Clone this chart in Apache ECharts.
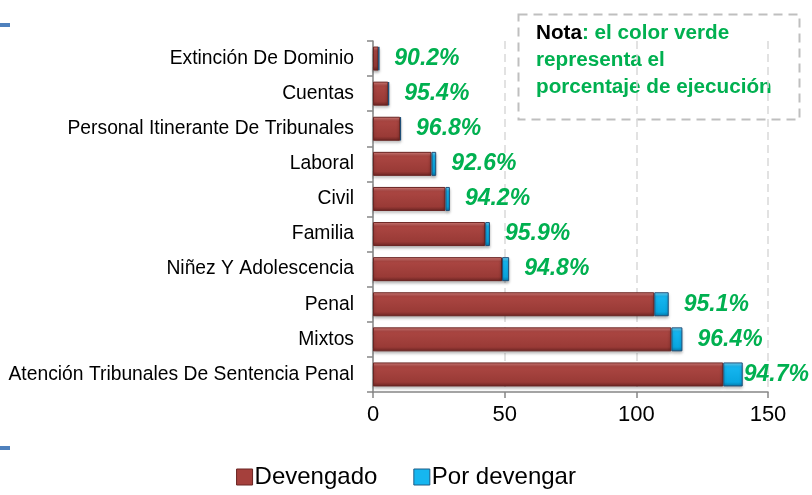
<!DOCTYPE html>
<html>
<head>
<meta charset="utf-8">
<script src="https://cdn.jsdelivr.net/npm/echarts@6/dist/echarts.min.js"></script>
<style>
  html, body { margin: 0; padding: 0; background: #fff; }
  #grafico { width: 812px; height: 495px; }
</style>
</head>
<body>
<div id="grafico"></div>
<script>
// datos (de arriba hacia abajo)
var categorias = ['Extinción De Dominio', 'Cuentas', 'Personal Itinerante De Tribunales', 'Laboral', 'Civil',
                  'Familia', 'Niñez Y Adolescencia', 'Penal', 'Mixtos', 'Atención Tribunales De Sentencia Penal'];
var devengado   = [2.1, 5.8, 10.3, 22.2, 27.5, 42.6, 49.0, 106.8, 113.3, 133.0];
var porDevengar = [0.23, 0.28, 0.34, 1.8, 1.7, 1.8, 2.7, 5.5, 4.2, 7.4];
var porcentajes = ['90.2%', '95.4%', '96.8%', '92.6%', '94.2%', '95.9%', '94.8%', '95.1%', '96.4%', '94.7%'];
var ticksX      = [0, 50, 100, 150];

var fuente = '"Liberation Sans", Arial, sans-serif';

// degradados para imitar el relieve de las barras
var rojo = new echarts.graphic.LinearGradient(0, 0, 0, 1, [
    { offset: 0, color: '#DC8581' },
    { offset: 0.18, color: '#AB4642' },
    { offset: 0.82, color: '#993A36' },
    { offset: 1, color: '#6A2422' }
]);
var azul = new echarts.graphic.LinearGradient(0, 0, 0, 1, [
    { offset: 0, color: '#7ADCFF' },
    { offset: 0.18, color: '#16B6F0' },
    { offset: 0.82, color: '#08A6E0' },
    { offset: 1, color: '#0478A8' }
]);

// la ultima etiqueta queda pegada a la barra
var datosAzul = porDevengar.map(function (v, i) {
    if (i === porDevengar.length - 1) {
        return { value: v, label: { distance: 1 } };
    }
    return v;
});

var myChart = echarts.init(document.getElementById('grafico'));

var option = {
    animation: false,
    textStyle: { fontFamily: fuente },
    grid: {
        left: 373,
        right: 44,
        top: 41,
        bottom: 103,
        outerBoundsMode: 'none'
    },
    legend: {
        bottom: 1,
        left: 'center',
        itemWidth: 16,
        itemHeight: 16,
        itemGap: 36,
        icon: 'rect',
        textStyle: { fontSize: 24, color: '#000', fontFamily: fuente, padding: [0, 0, 0, -3] },
        data: [
            { name: 'Devengado', itemStyle: { color: '#A5403C', borderColor: '#6A2422', borderWidth: 1 } },
            { name: 'Por devengar', itemStyle: { color: '#16B6F0', borderColor: '#1F5C86', borderWidth: 1 } }
        ]
    },
    xAxis: {
        type: 'value',
        min: ticksX[0],
        max: ticksX[ticksX.length - 1],
        interval: 50,
        axisLine: { show: true, lineStyle: { color: '#868686', width: 1.5 } },
        axisTick: { show: true, length: 6, lineStyle: { color: '#868686', width: 1.5 } },
        axisLabel: { fontSize: 22, color: '#000', margin: 12, fontFamily: fuente },
        splitLine: { show: true, lineStyle: { color: '#D9D9D9', type: [8, 5], width: 1.5 } }
    },
    yAxis: {
        type: 'category',
        inverse: true,
        data: categorias,
        axisLine: { show: true, lineStyle: { color: '#868686', width: 1.5 } },
        axisTick: { show: true, length: 6, lineStyle: { color: '#868686', width: 1.5 } },
        axisLabel: { fontSize: 19.3, color: '#000', margin: 19, fontFamily: fuente },
        splitLine: { show: false }
    },
    series: [
        {
            name: 'Devengado',
            type: 'bar',
            stack: 'total',
            barWidth: 24,
            data: devengado,
            itemStyle: {
                color: rojo,
                borderColor: '#6A2422',
                borderWidth: 1,
                shadowColor: 'rgba(0,0,0,0.3)',
                shadowBlur: 3,
                shadowOffsetY: 2
            }
        },
        {
            name: 'Por devengar',
            type: 'bar',
            stack: 'total',
            barWidth: 24,
            data: datosAzul,
            itemStyle: {
                color: azul,
                borderColor: '#1F4F78',
                borderWidth: 1,
                shadowColor: 'rgba(0,0,0,0.3)',
                shadowBlur: 3,
                shadowOffsetY: 2
            },
            label: {
                show: true,
                position: 'right',
                distance: 15,
                color: '#00B050',
                fontSize: 23,
                fontWeight: 'bold',
                fontStyle: 'italic',
                fontFamily: fuente,
                formatter: function (p) { return porcentajes[p.dataIndex]; }
            }
        }
    ],
    graphic: [
        // marcas azules del borde izquierdo (diapositiva)
        { type: 'rect', left: 0, top: 23, shape: { width: 10, height: 4 }, style: { fill: '#4F81BD' } },
        { type: 'rect', left: 0, top: 446, shape: { width: 10, height: 4 }, style: { fill: '#4F81BD' } },
        // recuadro de la nota
        {
            type: 'rect',
            left: 516,
            top: 12,
            shape: { width: 281, height: 105 },
            style: { fill: 'none', stroke: '#BFBFBF', lineWidth: 2, lineDash: [9, 6] }
        },
        {
            type: 'text',
            left: 536,
            top: 23,
            style: {
                text: '{n|Nota}{v|: el color verde}\n{v|representa el}\n{v|porcentaje de ejecución}',
                rich: {
                    n: { fontSize: 20.7, fontWeight: 'bold', fill: '#000', fontFamily: fuente, lineHeight: 27 },
                    v: { fontSize: 20.7, fontWeight: 'bold', fill: '#00B050', fontFamily: fuente, lineHeight: 27 }
                }
            }
        }
    ]
};

myChart.setOption(option);
</script>
</body>
</html>
